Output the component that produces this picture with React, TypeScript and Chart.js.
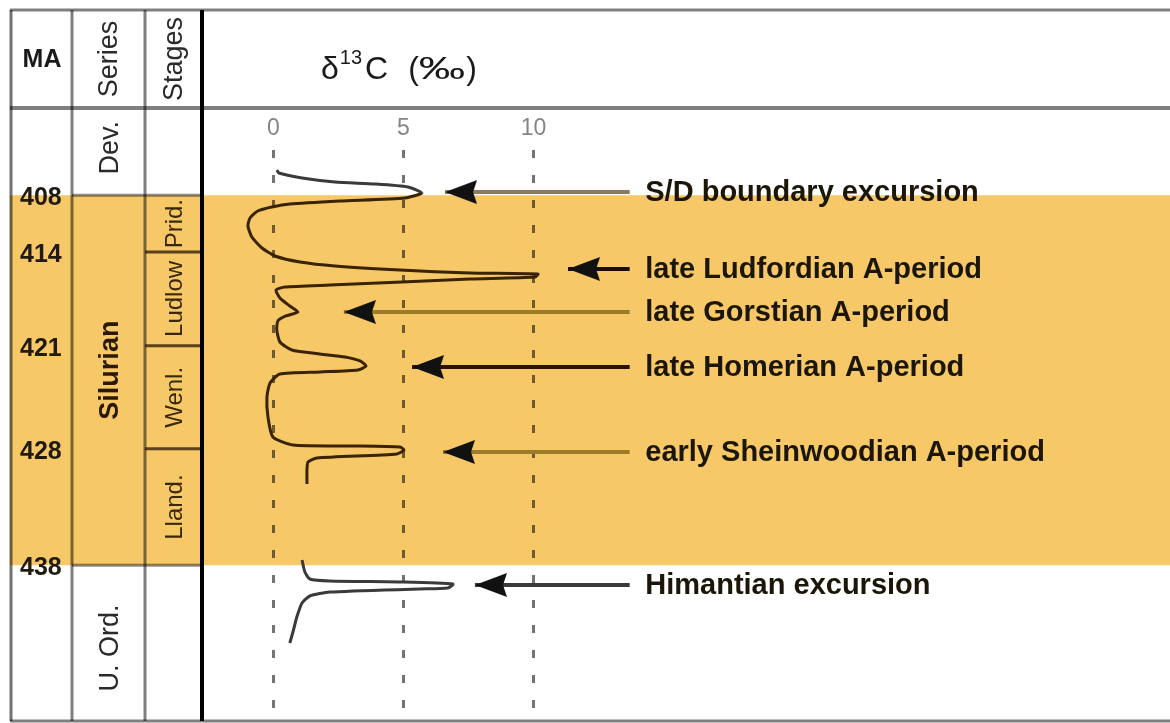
import React, { useEffect, useRef } from 'react';
import { Chart, registerables } from 'chart.js';

Chart.register(...registerables);

// δ13C curve (‰) against stratigraphic level (0 = top of plot, 100 = bottom)
const curveDelta = [0.13, 0.21, 1.10, 2.37, 3.90, 5.17, 5.71, 5.06, 2.56, 0.63, -0.06, -0.60, -0.90, -0.98, -0.83, -0.44, 0.06, 1.02, 2.37, 4.87, 7.56, 10.17, 10.06, 7.56, 4.94, 2.17, 0.44, 0.10, 0.25, 0.63, 0.94, 0.48, 0.17, 0.13, 0.25, 0.71, 1.79, 2.75, 3.33, 3.56, 3.25, 1.79, 0.25, -0.13, -0.25, -0.21, -0.02, 0.75, 2.94, 4.87, 5.02, 4.75, 1.67, 1.33, 1.29, 1.29, null, 1.10, 1.21, 1.40, 2.17, 4.87, 6.90, 6.71, 5.63, 2.17, 1.40, 1.10, 0.90, 0.75, 0.63];
const curveLevel = [4.84, 5.35, 6.22, 6.91, 7.25, 7.77, 8.81, 9.67, 10.19, 10.71, 11.23, 11.92, 13.13, 14.51, 16.41, 18.31, 19.69, 20.73, 21.42, 22.11, 22.63, 22.80, 23.32, 23.66, 24.18, 24.70, 25.04, 25.56, 26.94, 28.32, 29.36, 30.05, 30.92, 32.47, 34.54, 35.92, 36.61, 37.13, 37.82, 38.69, 39.38, 39.72, 40.07, 41.62, 44.04, 47.50, 50.95, 52.33, 52.50, 52.68, 53.20, 53.89, 54.58, 55.27, 56.65, 59.07, null, 72.19, 74.27, 75.47, 75.82, 75.99, 76.34, 77.03, 77.20, 77.72, 78.41, 79.62, 82.04, 84.63, 86.53];

// Events (arrows + labels)
const eventNames = ['S/D boundary excursion', 'late Ludfordian A-period', 'late Gorstian A-period', 'late Homerian A-period', 'early Sheinwoodian A-period', 'Himantian excursion'];
const eventTipDelta = [6.60, 11.33, 2.71, 5.33, 6.52, 7.75];
const eventLevels = [8.64, 21.93, 29.36, 38.86, 53.54, 76.51];
const eventLineEndDelta = 13.7;
const eventLabelDelta = 14.3;

// Time scale
const maLabels = ['408', '414', '421', '428', '438'];
const boundaryLevels = [9.2, 19.0, 35.2, 53.0, 73.1];
const seriesNames = ['Dev.', 'Silurian', 'U. Ord.'];
const seriesLevels = [1.0, 39.4, 87.4];
const stageNames = ['Prid.', 'Ludlow', 'Wenl.', 'Lland.'];

const xTicks = [0, 5, 10];
const xRange = [-2.67, 34.48];
const yRange = [0, 100];

const FONT = '"Liberation Sans", Arial, Helvetica, sans-serif';
const ORANGE = '#F6C868';
const arrowColors = ['#8a7b60', '#1a0d00', '#9c7c28', '#2a1400', '#9c7c28', '#3a3a3a'];

export default function App() {
  const ref = useRef<HTMLCanvasElement | null>(null);

  useEffect(() => {
    const canvas = ref.current;
    if (!canvas) return;

    // arrowhead image: tip at the centre, body to the right
    const head = document.createElement('canvas');
    head.width = 64;
    head.height = 26;
    const hc = head.getContext('2d')!;
    hc.fillStyle = '#111';
    hc.beginPath();
    hc.moveTo(32, 13);
    hc.lineTo(64, 1);
    hc.lineTo(60, 13);
    hc.lineTo(64, 25);
    hc.closePath();
    hc.fill();

    const bandTop = boundaryLevels[0];
    const bandBottom = boundaryLevels[boundaryLevels.length - 1];

    const curvePoints = curveDelta.map((d, i) => ({ x: d, y: curveLevel[i] }));

    const datasets: any[] = [
      {
        label: 'δ13C',
        data: curvePoints,
        showLine: true,
        borderWidth: 3,
        borderColor: '#3a2400',
        pointRadius: 0,
        pointHoverRadius: 0,
        tension: 0.2,
        spanGaps: false,
        segment: {
          borderColor: (c: any) => {
            const m = (c.p0.parsed.y + c.p1.parsed.y) / 2;
            return m > bandTop && m < bandBottom ? '#3a2400' : '#3a3a3a';
          },
        },
      },
    ];
    eventNames.forEach((name, i) => {
      datasets.push({
        label: name,
        data: [
          { x: eventTipDelta[i], y: eventLevels[i] },
          { x: eventLineEndDelta, y: eventLevels[i] },
        ],
        showLine: true,
        borderWidth: 4,
        borderColor: arrowColors[i],
        tension: 0,
        pointStyle: (c: any) => (c.dataIndex === 0 ? head : false),
        pointRadius: (c: any) => (c.dataIndex === 0 ? 1 : 0),
        pointHoverRadius: 0,
      });
    });

    const L = { left: 10, top: 10, maSep: 72, seriesSep: 145, stagesSep: 202, header: 108, right: 1170, bottom: 721 };

    const vText = (ctx: CanvasRenderingContext2D, text: string, x: number, y: number, font: string, color: string) => {
      ctx.save();
      ctx.translate(x, y);
      ctx.rotate(-Math.PI / 2);
      ctx.font = font;
      ctx.fillStyle = color;
      ctx.textAlign = 'center';
      ctx.textBaseline = 'middle';
      ctx.fillText(text, 0, 0);
      ctx.restore();
    };

    const hLine = (ctx: CanvasRenderingContext2D, x1: number, x2: number, y: number, color: string, w: number) => {
      ctx.strokeStyle = color;
      ctx.lineWidth = w;
      ctx.beginPath();
      ctx.moveTo(x1, y);
      ctx.lineTo(x2, y);
      ctx.stroke();
    };
    const vLine = (ctx: CanvasRenderingContext2D, x: number, y1: number, y2: number, color: string, w: number) => {
      ctx.strokeStyle = color;
      ctx.lineWidth = w;
      ctx.beginPath();
      ctx.moveTo(x, y1);
      ctx.lineTo(x, y2);
      ctx.stroke();
    };

    const tablePlugin = {
      id: 'stratTable',
      beforeDraw(chart: any) {
        const ctx = chart.ctx as CanvasRenderingContext2D;
        const y = chart.scales.y;
        const t = y.getPixelForValue(bandTop);
        const b = y.getPixelForValue(bandBottom);
        ctx.save();
        ctx.fillStyle = ORANGE;
        ctx.fillRect(L.left, t, L.right - L.left, b - t);
        ctx.restore();
      },
      afterDraw(chart: any) {
        const ctx = chart.ctx as CanvasRenderingContext2D;
        const y = chart.scales.y;
        const x = chart.scales.x;
        ctx.save();
        const gray = 'rgba(0,0,0,0.5)';
        // frame
        hLine(ctx, L.left, L.right, L.top, gray, 3);
        hLine(ctx, L.left, L.right, L.header, gray, 4);
        hLine(ctx, L.left, L.right, L.bottom, gray, 3);
        vLine(ctx, L.left + 1, L.top, L.bottom, 'rgba(0,0,0,0.55)', 3);
        vLine(ctx, L.maSep, L.top, L.bottom, gray, 3);
        vLine(ctx, L.seriesSep, L.top, L.bottom, gray, 3);
        // series boundaries
        hLine(ctx, L.maSep, L.stagesSep, y.getPixelForValue(bandTop), 'rgba(0,0,0,0.45)', 3);
        hLine(ctx, L.maSep, L.stagesSep, y.getPixelForValue(bandBottom), 'rgba(0,0,0,0.45)', 3);
        // stage boundaries
        for (let i = 1; i < boundaryLevels.length - 1; i++) {
          hLine(ctx, L.seriesSep, L.stagesSep, y.getPixelForValue(boundaryLevels[i]), 'rgba(40,20,0,0.75)', 3);
        }
        vLine(ctx, L.stagesSep, L.top, L.bottom, '#000', 4);

        // header texts
        ctx.fillStyle = '#1a1a1a';
        ctx.font = `bold 25px ${FONT}`;
        ctx.textAlign = 'center';
        ctx.textBaseline = 'middle';
        ctx.fillText('MA', (L.left + L.maSep) / 2 + 1, 60);
        vText(ctx, 'Series', (L.maSep + L.seriesSep) / 2 + 1, 59, `27px ${FONT}`, '#2a2a2a');
        vText(ctx, 'Stages', (L.seriesSep + L.stagesSep) / 2 + 1, 59, `27px ${FONT}`, '#2a2a2a');

        // series names
        seriesNames.forEach((n, i) => {
          const bold = n === 'Silurian';
          vText(ctx, n, (L.maSep + L.seriesSep) / 2 + 2, y.getPixelForValue(seriesLevels[i]), `${bold ? 'bold ' : ''}27px ${FONT}`, bold ? '#2a1800' : '#2a2a2a');
        });
        // stage names
        stageNames.forEach((n, i) => {
          const mid = (boundaryLevels[i] + boundaryLevels[i + 1]) / 2;
          vText(ctx, n, (L.seriesSep + L.stagesSep) / 2 + 2, y.getPixelForValue(mid), `24px ${FONT}`, '#3a2800');
        });

        // title
        ctx.textAlign = 'left';
        ctx.textBaseline = 'alphabetic';
        ctx.fillStyle = '#1a1a1a';
        let tx = 321;
        ctx.font = `32px ${FONT}`;
        ctx.fillText('δ', tx, 79);
        tx += ctx.measureText('δ').width + 1;
        ctx.font = `20px ${FONT}`;
        ctx.fillText('13', tx, 64);
        tx += ctx.measureText('13').width + 3;
        ctx.font = `32px ${FONT}`;
        ctx.fillText('C', tx, 79);
        tx += ctx.measureText('C').width + 20;
        ctx.fillText('(', tx, 79);
        tx += ctx.measureText('(').width;
        const pw = ctx.measureText('‰').width;
        ctx.save();
        ctx.translate(tx, 79);
        ctx.scale(1.45, 1);
        ctx.fillText('‰', 0, 0);
        ctx.restore();
        tx += pw * 1.45 + 1;
        ctx.fillText(')', tx, 79);

        // event labels
        ctx.font = `bold 29px ${FONT}`;
        ctx.textBaseline = 'middle';
        eventNames.forEach((n, i) => {
          ctx.fillStyle = '#1c1608';
          ctx.fillText(n, x.getPixelForValue(eventLabelDelta), y.getPixelForValue(eventLevels[i]) + 1);
        });
        ctx.restore();
      },
    };

    const noPad = (axis: any) => {
      axis.paddingTop = 0;
      axis.paddingBottom = 0;
      axis.paddingLeft = 0;
      axis.paddingRight = 0;
    };

    const chart = new Chart(canvas, {
      type: 'scatter',
      data: { datasets },
      options: {
        responsive: false,
        animation: false,
        devicePixelRatio: 1,
        layout: { autoPadding: false, padding: { left: 20, top: 108, right: 0, bottom: 2 } },
        plugins: { legend: { display: false }, tooltip: { enabled: false }, title: { display: false } },
        events: [],
        scales: {
          x: {
            type: 'linear',
            position: 'top',
            min: xRange[0],
            max: xRange[1],
            afterBuildTicks: (axis: any) => {
              axis.ticks = xTicks.map((v) => ({ value: v }));
            },
            afterFit: (axis: any) => {
              axis.height = 34;
              noPad(axis);
            },
            ticks: {
              autoSkip: false,
              maxRotation: 0,
              padding: 0,
              color: '#858585',
              font: { family: FONT, size: 23 },
              callback: (v: any) => String(v),
            },
            grid: {
              drawOnChartArea: true,
              drawTicks: false,
              color: 'rgba(0,0,0,0.55)',
              lineWidth: 3,
            },
            border: { display: false, dash: [8, 17], dashOffset: 17 },
          },
          y: {
            type: 'linear',
            position: 'left',
            reverse: true,
            min: yRange[0],
            max: yRange[1],
            afterBuildTicks: (axis: any) => {
              axis.ticks = boundaryLevels.map((v) => ({ value: v }));
            },
            afterFit: (axis: any) => {
              axis.width = 184;
              noPad(axis);
            },
            ticks: {
              autoSkip: false,
              crossAlign: 'far',
              labelOffset: 3,
              color: '#201a10',
              font: { family: FONT, size: 25, weight: 'bold' },
              callback: (_v: any, i: number) => maLabels[i],
            },
            grid: { display: false },
            border: { display: false },
          },
        },
      },
      plugins: [tablePlugin],
    } as any);

    return () => chart.destroy();
  }, []);

  return (
    <div style={{ position: 'fixed', left: 0, top: 0, width: 1170, height: 723, background: '#fff' }}>
      <canvas ref={ref} width={1170} height={723} style={{ display: 'block', width: 1170, height: 723 }} />
    </div>
  );
}
